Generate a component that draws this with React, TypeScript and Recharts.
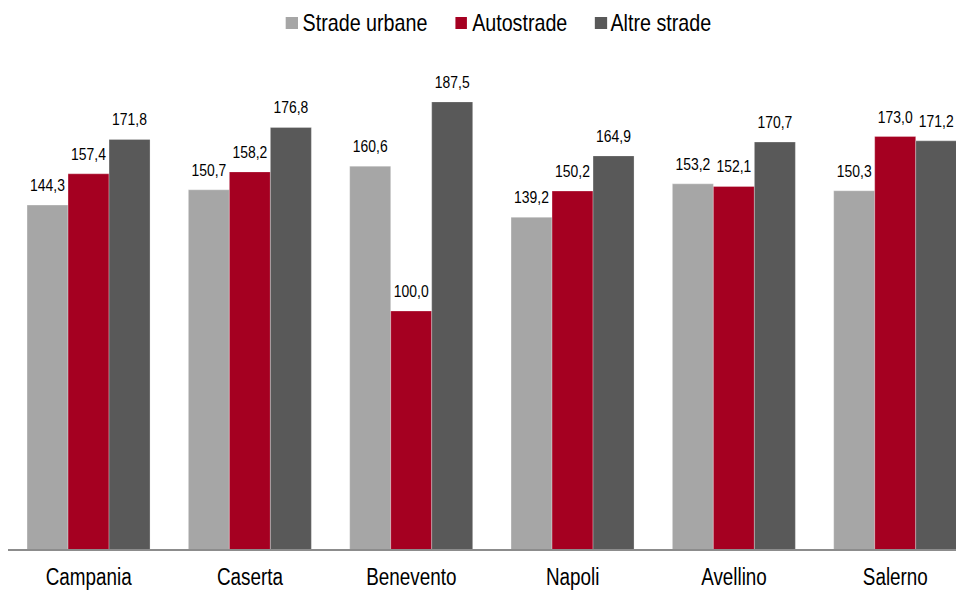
import React from 'react';
import { BarChart, Bar, XAxis, YAxis, Legend, LabelList } from 'recharts';

const provinces = ['Campania', 'Caserta', 'Benevento', 'Napoli', 'Avellino', 'Salerno'];
const stradeUrbane = [144.3, 150.7, 160.6, 139.2, 153.2, 150.3];
const autostrade = [157.4, 158.2, 100.0, 150.2, 152.1, 173.0];
const altreStrade = [171.8, 176.8, 187.5, 164.9, 170.7, 171.2];

const seriesNames = ['Strade urbane', 'Autostrade', 'Altre strade'];
const seriesColors = ['#A6A6A6', '#A50021', '#595959'];

const data = provinces.map((name, i) => ({
  name,
  urbane: stradeUrbane[i],
  auto: autostrade[i],
  altre: altreStrade[i],
}));

const FONT = "'Liberation Sans', Arial, sans-serif";
// the original uses a narrow face; squeeze the regular one horizontally
const NARROW = 0.82;

const fmt = (v: number) => v.toFixed(1).replace('.', ',');

const LegendContent = () => (
  <div style={{ height: 30, display: 'flex', justifyContent: 'center', alignItems: 'center' }}>
    <div
      style={{
        display: 'flex',
        alignItems: 'center',
        transform: `translateX(6px) scaleX(${NARROW})`,
        transformOrigin: 'center',
        fontFamily: FONT,
        fontSize: 24,
        color: '#000',
        whiteSpace: 'nowrap',
      }}
    >
      {seriesNames.map((n, i) => (
        <div key={n} style={{ display: 'flex', alignItems: 'center', marginRight: i < 2 ? 34 : 0 }}>
          <span
            style={{
              width: 12 / NARROW,
              height: 12,
              background: seriesColors[i],
              marginRight: i < 2 ? 6 : 4,
              display: 'inline-block',
            }}
          />
          <span>{n}</span>
        </div>
      ))}
    </div>
  </div>
);

const ValueLabel = (props: any) => {
  const { x, y, width, value } = props;
  const cx = Number(x) + Number(width) / 2;
  return (
    <text
      transform={`translate(${cx},${Number(y) - 14}) scale(${NARROW},1)`}
      textAnchor="middle"
      fill="#000"
      fontSize={17}
      fontFamily={FONT}
    >
      {fmt(Number(value))}
    </text>
  );
};

const CategoryTick = (props: any) => {
  const { x, y, payload } = props;
  return (
    <text
      transform={`translate(${x},${Number(y) + 33}) scale(${NARROW},1)`}
      textAnchor="middle"
      fill="#000"
      fontSize={23}
      fontFamily={FONT}
    >
      {payload.value}
    </text>
  );
};

const App: React.FC = () => {
  const keys = ['urbane', 'auto', 'altre'];
  return (
    <div style={{ width: 956, height: 590, overflow: 'hidden' }}>
      <BarChart
        width={968}
        height={600}
        data={data}
        margin={{ top: 34, right: 0, bottom: 18, left: 0 }}
        barCategoryGap="11.8%"
        barGap={0}
      >
        <Legend verticalAlign="top" align="center" content={<LegendContent />} wrapperStyle={{ top: 0, left: 0 }} />
        <XAxis
          dataKey="name"
          height={40}
          axisLine={{ stroke: '#8C8C8C', strokeWidth: 2 }}
          tickLine={false}
          tickSize={0}
          tick={<CategoryTick />}
          interval={0}
        />
        <YAxis hide domain={[0, 200]} />
        {keys.map((k, i) => (
          <Bar
            key={k}
            dataKey={k}
            name={seriesNames[i]}
            fill={seriesColors[i]}
            stroke="#ffffff"
            strokeOpacity={0.35}
            strokeWidth={0.8}
            isAnimationActive={false}
          >
            <LabelList dataKey={k} content={<ValueLabel />} />
          </Bar>
        ))}
      </BarChart>
    </div>
  );
};

export default App;
